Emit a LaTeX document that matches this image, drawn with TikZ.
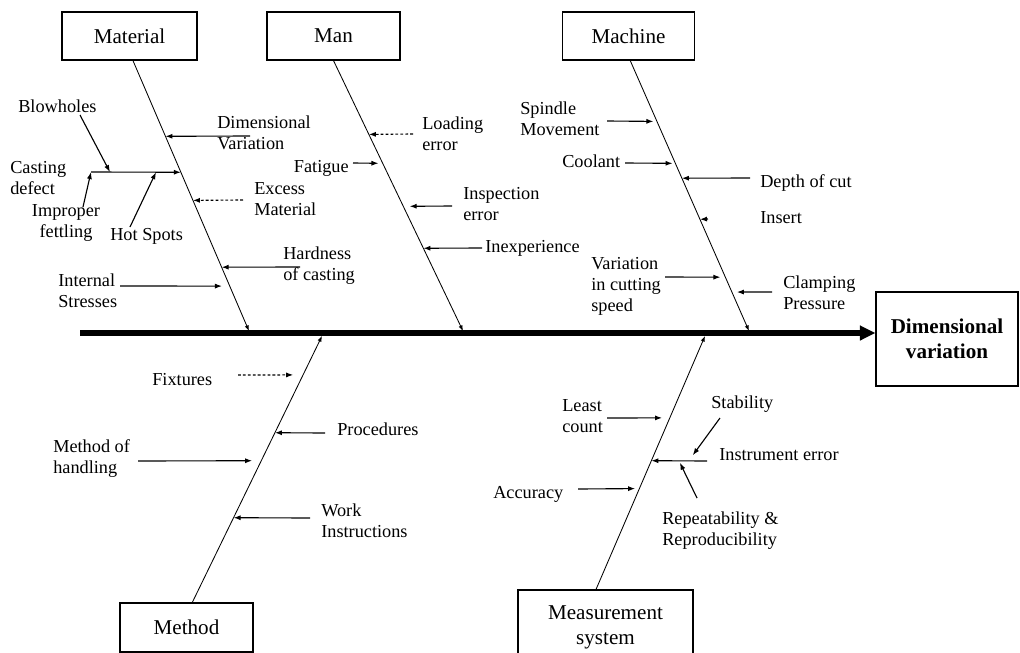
\documentclass[tikz,border=0pt]{standalone}
\usepackage{fontspec}
\setmainfont{Liberation Serif}
\usetikzlibrary{
  % enables the meta arrow tips
  arrows.meta,%
  calc
}
\tikzset{>={Latex[length=5pt,width=3.6pt]}}
\tikzset{
  catbox/.style={draw, line width=0.8pt, minimum width=3.35cm, minimum height=1.2cm,
    inner sep=0pt, font=\fontsize{15}{18}\selectfont},
  lbl/.style={inner sep=0pt, anchor=base west, align=left, font=\fontsize{13}{14.6}\selectfont},
  bone/.style={line width=0.6pt, -{Latex[length=4pt,width=3pt]}},
  cause/.style={line width=0.8pt, ->},
  faint/.style={cause, dash pattern=on 2pt off 1.5pt},
  spine/.style={line width=3.6pt, -{Triangle[length=11pt,width=10pt]}}
}

\begin{document}
\begin{tikzpicture}[x=0.025cm, y=-0.025cm]
  \useasboundingbox (0,0) rectangle (1020,652);
  % effect and backbone
  \node[catbox, minimum width=3.55cm, minimum height=2.35cm, align=center,
    font=\bfseries\fontsize{15}{18}\selectfont] (dv) at (947,339) {Dimensional\\variation};
  \coordinate (tail) at (80,333);
  \draw[spine] (tail) -- (tail -| dv.west);

  % category boxes
  \node[catbox, minimum width=3.375cm] (mat) at (129.5,36) {Material};
  \node[catbox, minimum width=3.325cm] (man) at (333.5,36) {Man};
  \node[catbox, minimum width=3.3cm] (mac) at (628.5,36) {Machine};
  \node[catbox, minimum width=3.325cm, minimum height=1.225cm] (met) at (186.5,627.5) {Method};
  \node[catbox, minimum width=4.375cm, minimum height=1.875cm, align=center] (mea) at (605.5,627.5) {Measurement\\system};

  \coordinate (matEnd) at (249,331);
  \coordinate (manEnd) at (463,331);
  \coordinate (macEnd) at (749,331);
  \coordinate (metEnd) at (322,336);
  \coordinate (meaEnd) at (705,336);

  % bones
  \draw[bone] (mat.-82) -- coordinate[pos=.280] (mDV) coordinate[pos=.413] (mCD)
    coordinate[pos=.517] (mEX) coordinate[pos=.764] (mHC) coordinate[pos=.834] (mIS) (matEnd);
  \draw[bone] (man.south) -- coordinate[pos=.273] (nLE) coordinate[pos=.380] (nFA)
    coordinate[pos=.539] (nIN) coordinate[pos=.694] (nEX) (manEnd);
  \draw[bone] (mac.-86) -- coordinate[pos=.225] (cSM) coordinate[pos=.380] (cCO)
    coordinate[pos=.435] (cDC) coordinate[pos=.587] (cIN) coordinate[pos=.801] (cVS)
    coordinate[pos=.856] (cCP) (macEnd);
  \draw[bone] (met.77) -- coordinate[pos=.854] (tFX) coordinate[pos=.637] (tPR)
    coordinate[pos=.532] (tMH) coordinate[pos=.318] (tWI) (metEnd);
  \draw[bone] (mea.104) -- coordinate[pos=.677] (eLC) coordinate[pos=.508] (eIE)
    coordinate[pos=.398] (eAC) (meaEnd);

  % Material
  \node[lbl] (blow) at (18,112) {Blowholes};
  \node[lbl] (dimv) at (217,149.5) {Dimensional\\Variation};
  \node[lbl] (cast) at (10,194.5) {Casting\\defect};
  \node[lbl, anchor=base, align=center] (fett) at (66,237.5) {Improper\\fettling};
  \node[lbl] (hot) at (110,240) {Hot Spots};
  \node[lbl] (exc) at (254,215.5) {Excess\\Material};
  \node[lbl] (hard) at (283,280.5) {Hardness\\of casting};
  \node[lbl] (intl) at (58,307.5) {Internal\\Stresses};
  \coordinate (sDV) at (250,136);
  \coordinate (cdL) at (91,172);
  \coordinate (sBH) at (80,115);
  \coordinate (sIF) at (83,207);
  \coordinate (sHS) at (130,227);
  \coordinate (sEX) at (243,200);
  \coordinate (sHC) at (300,267);
  \coordinate (sIS) at (120,286);
  \draw[cause] (sDV) -- (mDV);
  \draw[cause] (cdL) -- coordinate[pos=.211] (cdB) coordinate[pos=.723] (cdH) (mCD);
  \draw[cause] (sBH) -- (cdB);
  \draw[cause] (sIF) -- (cdL);
  \draw[cause] (sHS) -- (cdH);
  \draw[faint] (sEX) -- (mEX);
  \draw[cause] (sHC) -- (mHC);
  \draw[cause, shorten >=5.5pt] (sIS) -- (mIS);

  % Man
  \node[lbl] (load) at (422,150.5) {Loading\\error};
  \node[lbl, anchor=base east] (fati) at (349,172) {Fatigue};
  \node[lbl] (insp) at (463,220.5) {Inspection\\error};
  \node[lbl] (inex) at (485,252) {Inexperience};
  \coordinate (sLE) at (413,134);
  \coordinate (sFA) at (353,163);
  \coordinate (sIN) at (452,206);
  \coordinate (sEXP) at (482,248);
  \draw[faint] (sLE) -- (nLE);
  \draw[cause, shorten >=3pt] (sFA) -- (nFA);
  \draw[cause, shorten >=4.5pt] (sIN) -- (nIN);
  \draw[cause] (sEXP) -- (nEX);

  % Machine
  \node[lbl] (spin) at (520,135.5) {Spindle\\Movement};
  \node[lbl] (cool) at (562,167) {Coolant};
  \node[lbl] (depth) at (760,187) {Depth of cut};
  \node[lbl] (ins) at (760,223) {Insert};
  \node[lbl] (vcs) at (591,311) {Variation\\in cutting\\speed};
  \node[lbl] (clmp) at (783,309.5) {Clamping\\Pressure};
  \coordinate (sSM) at (607,121);
  \coordinate (sCO) at (625,163);
  \coordinate (sDC) at (750,178);
  \coordinate (sIT) at (708,219);
  \coordinate (sVS) at (665,277);
  \coordinate (sCP) at (772,292);
  \draw[cause, shorten >=2.5pt] (sSM) -- (cSM);
  \draw[cause, shorten >=2pt] (sCO) -- (cCO);
  \draw[cause] (sDC) -- (cDC);
  \draw[cause] (sIT) -- (cIN);
  \draw[cause, shorten >=3.5pt] (sVS) -- (cVS);
  \draw[cause, shorten >=3.5pt] (sCP) -- (cCP);

  % Method
  \node[lbl] (fix) at (152,385) {Fixtures};
  \node[lbl] (proc) at (337,435) {Procedures};
  \node[lbl] (moh) at (53,473.5) {Method of\\handling};
  \node[lbl] (work) at (321,537.5) {Work\\Instructions};
  \coordinate (sFX) at (238,375);
  \coordinate (sPR) at (325,433);
  \coordinate (sMH) at (138,461);
  \coordinate (sWI) at (310,518);
  \draw[faint, shorten >=7pt] (sFX) -- (tFX);
  \draw[cause] (sPR) -- (tPR);
  \draw[cause, shorten >=6.5pt] (sMH) -- (tMH);
  \draw[cause] (sWI) -- (tWI);

  % Measurement system
  \node[lbl] (least) at (562,432.5) {Least\\count};
  \node[lbl] (stab) at (711,408) {Stability};
  \node[lbl] (inst) at (719,460) {Instrument error};
  \node[lbl] (accu) at (493,498) {Accuracy};
  \node[lbl] (rep) at (662,545.5) {Repeatability \&\\Reproducibility};
  \coordinate (sLC) at (607,418);
  \coordinate (ieR0) at (707,461);
  \coordinate (sST) at (720,418);
  \coordinate (sRR) at (697,498);
  \coordinate (sAC) at (578,489);
  \draw[cause, shorten >=5.5pt] (sLC) -- (eLC);
  \draw[cause] (ieR0) -- coordinate[pos=.33] (ieS) coordinate[pos=.504] (ieR) (eIE);
  \draw[cause, shorten >=5pt] (sST) -- (ieS);
  \draw[cause, shorten >=1.5pt] (sRR) -- (ieR);
  \draw[cause, shorten >=3pt] (sAC) -- (eAC);
\end{tikzpicture}
\end{document}
